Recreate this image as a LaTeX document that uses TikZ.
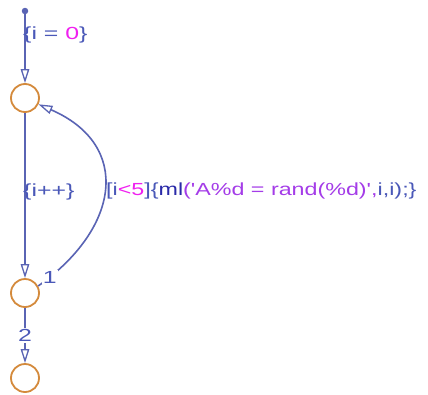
\documentclass[tikz,border=0pt]{standalone}
\usepackage{fontspec}
\setmainfont{Liberation Sans}
\usetikzlibrary{arrows.meta}
\definecolor{lineblue}{HTML}{5A64B4}
\definecolor{tblue}{HTML}{4A58B8}
\definecolor{tdark}{HTML}{2A2AA8}
\definecolor{tmag}{HTML}{F020F0}
\definecolor{tpurple}{HTML}{A43CE8}
\definecolor{sorange}{HTML}{D48A3C}
\newcommand\stretchtxt[2][1.42]{\scalebox{#1}[1]{#2}}
\tikzset{
  state/.style={circle, draw=sorange, line width=1.8pt, minimum size=28pt, inner sep=0pt, fill=white},
  trans/.style={draw=lineblue, line width=1.6pt, -{Triangle[length=14pt,width=8.5pt,fill=white,line width=1.3pt]}},
  lbl/.style={inner sep=0pt, anchor=west, font=\fontsize{17.5}{21}\selectfont, text=tblue},
  num/.style={inner sep=1pt, fill=white, font=\fontsize{17.5}{21}\selectfont, text=tblue},
}
\begin{document}
\begin{tikzpicture}[x=1pt,y=-1pt]
\useasboundingbox (0,0) rectangle (428,394);
\fill[white] (0,0) rectangle (428,394);
\node[state] (s1) at (25,98) {};
\node[state] (s2) at (25,293) {};
\node[state] (s3) at (25,378) {};
\node[circle, fill=lineblue, inner sep=0pt, minimum size=6.5pt] (start) at (25,11) {};
\draw[trans] (start) -- (s1);
\draw[trans] (s1) -- (s2);
\draw[trans] (s2) -- node[num] (n2) {\stretchtxt{2}} (s3);
\draw[trans] (s2.28) .. controls (120,228) and (132,145) .. node[num, pos=0.05] (n1) {\stretchtxt{1}} (s1.-25);
\node[lbl] (l0) at (23,35) {\stretchtxt{\{i = \textcolor{tmag}{0}\}}};
\node[lbl] (l1) at (23,192) {\stretchtxt{\{i++\}}};
\node[lbl] (l2) at (106,191) {\stretchtxt[1.33]{[i\textcolor{tmag}{<5}]\{\textcolor{tdark}{ml}\textcolor{tpurple}{(\textquotesingle A\%d = rand(\%d)\textquotesingle}\textcolor{tpurple}{,}i,i);\}}};
\end{tikzpicture}
\end{document}
